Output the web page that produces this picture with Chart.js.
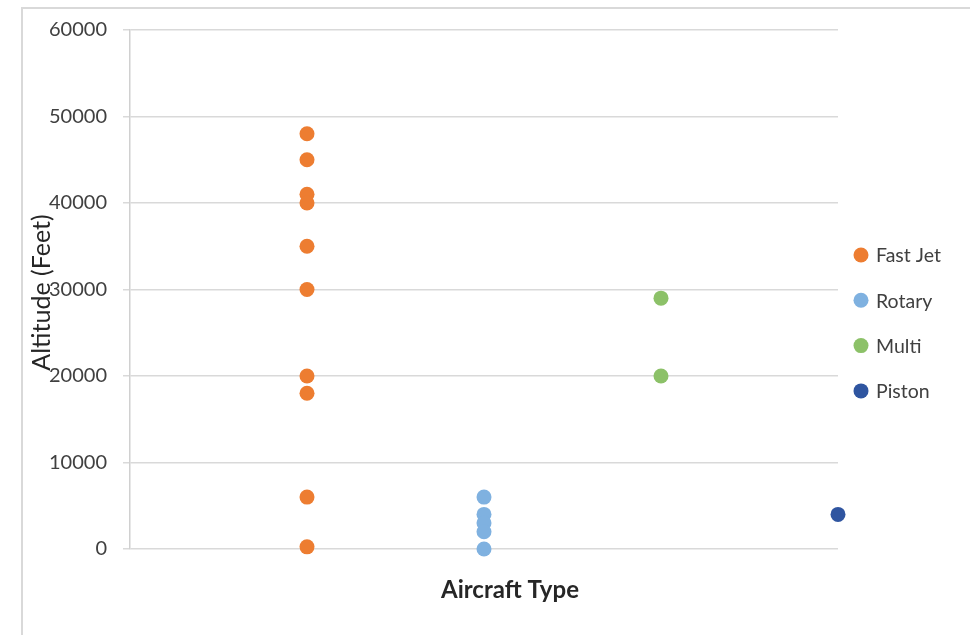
<!DOCTYPE html>
<html>
<head>
<meta charset="utf-8">
<script src="https://cdn.jsdelivr.net/npm/chart.js@4/dist/chart.umd.min.js"></script>
<style>
  html, body { margin: 0; padding: 0; background: #ffffff; }
  #wrap { width: 970px; height: 635px; position: relative; }
</style>
</head>
<body>
<div id="wrap"><canvas id="chart" width="970" height="635"></canvas></div>
<script>
// Aircraft categories and their slot on the horizontal axis
const categories = ['Fast Jet', 'Rotary', 'Multi', 'Piston'];
const categorySlots = [1, 2, 3, 4];

// Operating altitudes (feet) per aircraft type
const fastJetAltitudes = [48000, 45000, 41000, 40000, 35000, 30000, 20000, 18000, 6000, 250];
const rotaryAltitudes = [6000, 4000, 3000, 2000, 0];
const multiAltitudes = [29000, 20000];
const pistonAltitudes = [4000];

// Vertical axis ticks
const altitudeTicks = [0, 10000, 20000, 30000, 40000, 50000, 60000];

const seriesColors = ['#ED7D31', '#7FB1E0', '#8CC168', '#2F55A0'];
const seriesValues = [fastJetAltitudes, rotaryAltitudes, multiAltitudes, pistonAltitudes];

const datasets = categories.map((name, i) => ({
  label: name,
  data: seriesValues[i].map(v => ({ x: categorySlots[i], y: v })),
  backgroundColor: seriesColors[i],
  borderWidth: 0,
  pointRadius: 7.5,
  pointHoverRadius: 7.5,
  clip: false
}));

const FONT = 'Lato, "Open Sans", sans-serif';

// Frame around the whole chart area and a white backdrop
const framePlugin = {
  id: 'frame',
  beforeDraw(chart) {
    const ctx = chart.ctx;
    ctx.save();
    ctx.fillStyle = '#ffffff';
    ctx.fillRect(0, 0, chart.width, chart.height);
    ctx.strokeStyle = '#d9d9d9';
    ctx.lineWidth = 2;
    ctx.beginPath();
    ctx.moveTo(22, chart.height);
    ctx.lineTo(22, 8);
    ctx.lineTo(chart.width, 8);
    ctx.stroke();
    ctx.restore();
  }
};

// Axis titles and the side legend
const annotationPlugin = {
  id: 'annotations',
  afterDraw(chart) {
    const ctx = chart.ctx;
    const area = chart.chartArea;
    ctx.save();
    // vertical axis title
    ctx.fillStyle = '#262626';
    ctx.font = '25px ' + FONT;
    ctx.textAlign = 'center';
    ctx.textBaseline = 'middle';
    ctx.translate(42, (area.top + area.bottom) / 2 + 3);
    ctx.rotate(-Math.PI / 2);
    ctx.fillText('Altitude (Feet)', 0, 0);
    ctx.restore();

    ctx.save();
    ctx.fillStyle = '#262626';
    ctx.font = 'bold 24px ' + FONT;
    ctx.textAlign = 'center';
    ctx.textBaseline = 'middle';
    ctx.fillText('Aircraft Type', 510, area.bottom + 41);
    ctx.restore();

    // legend
    ctx.save();
    ctx.font = '19.5px ' + FONT;
    ctx.textAlign = 'left';
    ctx.textBaseline = 'middle';
    chart.data.datasets.forEach((ds, i) => {
      const y = 255 + i * 45.3;
      ctx.fillStyle = ds.backgroundColor;
      ctx.beginPath();
      ctx.arc(area.right + 23, y, 7.5, 0, Math.PI * 2);
      ctx.fill();
      ctx.fillStyle = '#404040';
      ctx.fillText(ds.label, area.right + 38, y + 1);
    });
    ctx.restore();
  }
};

new Chart(document.getElementById('chart'), {
  type: 'scatter',
  data: { datasets },
  options: {
    responsive: false,
    devicePixelRatio: 1,
    animation: false,
    events: [],
    layout: { padding: { top: 30, right: 132, bottom: 86, left: 0 } },
    plugins: {
      legend: { display: false },
      tooltip: { enabled: false }
    },
    scales: {
      x: {
        type: 'linear',
        display: false,
        min: 0,
        max: 4
      },
      y: {
        type: 'linear',
        min: 0,
        max: 60000,
        afterBuildTicks: scale => { scale.ticks = altitudeTicks.map(v => ({ value: v })); },
        afterFit: scale => { scale.width = 130; },
        grid: { color: '#d9d9d9', lineWidth: 1.5, tickLength: 7, drawTicks: true },
        border: { display: true, color: '#d0d0d0', width: 1.5 },
        ticks: {
          padding: 16,
          color: '#404040',
          font: { family: FONT, size: 20 },
          callback: v => String(v)
        }
      }
    }
  },
  plugins: [framePlugin, annotationPlugin]
});
</script>
</body>
</html>
